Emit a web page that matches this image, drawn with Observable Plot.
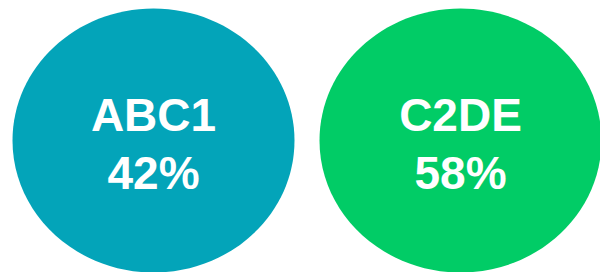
<!DOCTYPE html>
<html>
<head>
<meta charset="utf-8">
<script src="https://cdn.jsdelivr.net/npm/d3@7"></script>
<script src="https://cdn.jsdelivr.net/npm/@observablehq/plot@0.6"></script>
<style>
  html, body { margin: 0; padding: 0; background: #fff; }
  #chart svg { display: block; }
</style>
</head>
<body>
<div id="chart"></div>
<script>
const categories = ["ABC1", "C2DE"];
const shares = [42, 58];
const colors = ["#03a4b9", "#01cc66"];

const data = categories.map((c, i) => ({ category: c, share: shares[i] }));

// Ellipse symbol (slightly flattened circle)
const ellipse = {
  draw(ctx, size) {
    const r = Math.sqrt(size / Math.PI);
    const rx = r, ry = r * 132 / 141, k = 0.5522847;
    ctx.moveTo(rx, 0);
    ctx.bezierCurveTo(rx, ry * k, rx * k, ry, 0, ry);
    ctx.bezierCurveTo(-rx * k, ry, -rx, ry * k, -rx, 0);
    ctx.bezierCurveTo(-rx, -ry * k, -rx * k, -ry, 0, -ry);
    ctx.bezierCurveTo(rx * k, -ry, rx, -ry * k, rx, 0);
    ctx.closePath();
  }
};

const chart = Plot.plot({
  width: 600,
  height: 272,
  marginTop: 8,
  marginBottom: 0,
  marginLeft: 0,
  marginRight: 0,
  style: { background: "#fff", fontFamily: "'Liberation Sans', Arial, sans-serif" },
  x: { type: "point", domain: categories, range: [152.5, 460], padding: 0, axis: null },
  color: { domain: categories, range: colors },
  marks: [
    Plot.dot(data, {
      x: "category",
      frameAnchor: "middle",
      r: 141,
      symbol: ellipse,
      fill: "category",
      stroke: "none"
    }),
    Plot.text(data, {
      x: "category",
      frameAnchor: "middle",
      text: d => `${d.category}\n${d.share}%`,
      fill: "white",
      fontSize: 46,
      fontWeight: "bold",
      lineHeight: 1.25,
      lineAnchor: "middle",
      dy: 1
    })
  ]
});

document.getElementById("chart").appendChild(chart);
</script>
</body>
</html>
